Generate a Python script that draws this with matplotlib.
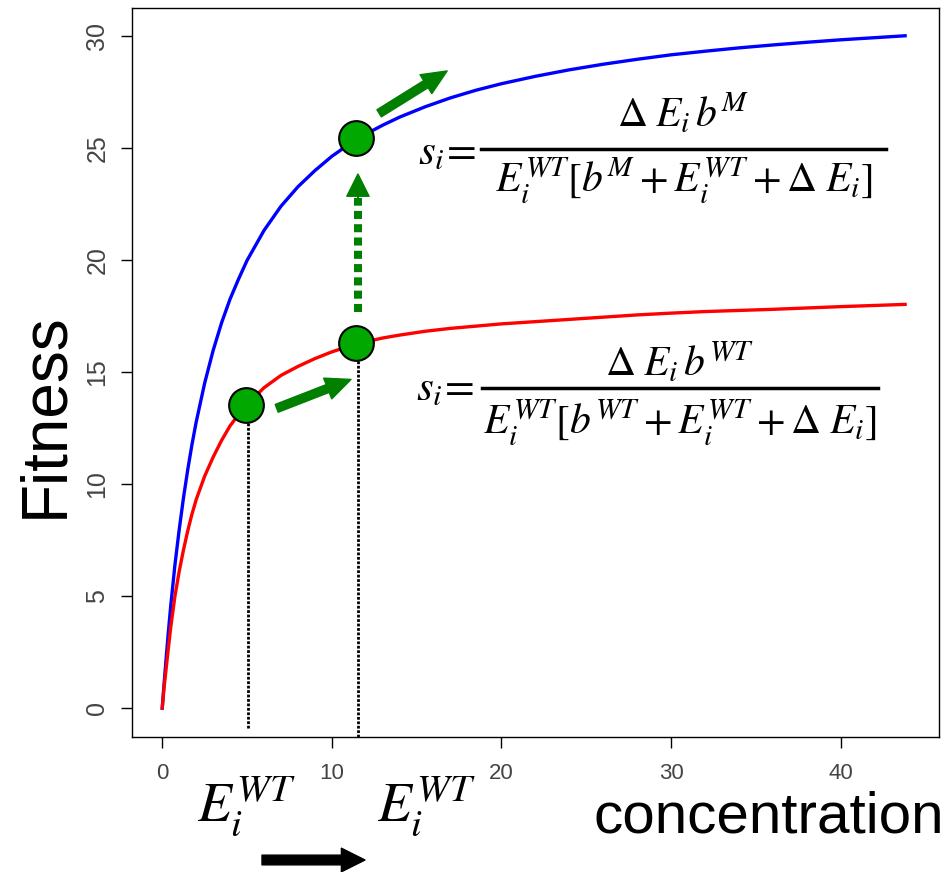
import matplotlib
matplotlib.use("Agg")
import matplotlib.pyplot as plt
from matplotlib.patches import FancyArrowPatch, ArrowStyle
from matplotlib.lines import Line2D

plt.rcParams['mathtext.fontset'] = 'stix'

# ---- data ----
concentration = [0, 0.1, 0.25, 0.35, 0.5, 0.75, 1, 1.25, 1.5, 1.75, 2, 2.5, 3, 3.5, 4, 4.5, 5, 6, 7, 8, 9,
                 10, 11, 12, 13, 14, 15.5, 17, 18.5, 20, 22, 24, 26, 28, 30, 32, 34, 36, 38, 40, 43.8]
fitness_mutant = [0, 1.0, 2.4, 3.3, 4.55, 6.4, 7.96, 9.37, 10.62, 11.75, 12.76, 14.5, 15.96, 17.2, 18.26,
                  19.15, 19.98, 21.32, 22.40, 23.27, 23.99, 24.63, 25.16, 25.62, 26.02, 26.38, 26.84,
                  27.24, 27.58, 27.87, 28.2, 28.49, 28.74, 28.96, 29.16, 29.32, 29.47, 29.60, 29.72,
                  29.83, 30.01]
fitness_wt = [0, 0.85, 1.9, 2.6, 3.6, 5.0, 6.1, 7.05, 7.9, 8.65, 9.3, 10.35, 11.2, 11.95, 12.6, 13.1,
              13.55, 14.3, 14.85, 15.25, 15.6, 15.9, 16.15, 16.35, 16.52, 16.65, 16.82, 16.95, 17.05,
              17.15, 17.25, 17.35, 17.45, 17.55, 17.63, 17.7, 17.75, 17.8, 17.86, 17.92, 18.02]

point_x = [4.92, 11.4, 11.4]
point_y = [13.53, 16.28, 25.43]

guide_x = [5.08, 11.56]
guide_top = [13.53, 16.28]
guide_bottom = [-0.88, -1.29]

x_ticks = [0, 10, 20, 30, 40]
y_ticks = [0, 5, 10, 15, 20, 25, 30]

W, H = 949, 872
fig = plt.figure(figsize=(W / 100, H / 100), dpi=100)
ax = fig.add_axes([131.7 / W, 1 - 737 / H, (939 - 131.7) / W, (737 - 8) / H])

def px(x, y):
    return (x / W, 1 - y / H)

ax.plot(concentration, fitness_mutant, color='#0000FF', lw=2.4, zorder=2)
ax.plot(concentration, fitness_wt, color='#FF0000', lw=2.4, zorder=2)

for gx, gt, gb in zip(guide_x, guide_top, guide_bottom):
    ax.plot([gx, gx], [gb, gt], color='black', lw=2.0, ls=(0, (1, 0.6)), zorder=3)

# arrows
green = '#007F00'
def arrow(p0, p1, color, hl=18, hw=16, tw=6):
    a = FancyArrowPatch(p0, p1, arrowstyle=ArrowStyle.Simple(head_length=hl, head_width=hw, tail_width=tw),
                        mutation_scale=1, color=color, shrinkA=0, shrinkB=0, zorder=4)
    ax.add_patch(a)

arrow((6.75, 13.38), (11.13, 14.67), green)
arrow((12.79, 26.55), (16.80, 28.44), green)
# dotted vertical arrow
ax.plot([11.54, 11.54], [17.7, 22.75], color=green, lw=5.8, ls=(0, (1.0, 0.65)),
        solid_capstyle='butt', dash_capstyle='butt', zorder=4)
arrow((11.54, 22.6), (11.54, 23.84), green, hl=16, hw=16, tw=0.1)

ax.plot(point_x, point_y, 'o', ms=25, mfc='#00A800', mec='black', mew=1.5, zorder=5)

ax.set_xlim(-1.80, 45.8)
ax.set_ylim(-1.29, 31.25)
ax.set_xticks(x_ticks)
ax.set_yticks(y_ticks)
ax.set_xticklabels([str(t) for t in x_ticks], fontsize=16, color='#444444', family=['Liberation Sans', 'DejaVu Sans'])
ax.set_yticklabels([str(t) for t in y_ticks], fontsize=18, color='#444444', rotation=90, va='center',
                   family=['Liberation Sans', 'DejaVu Sans'])
ax.tick_params(axis='x', length=8, width=1, pad=11, direction='out')
ax.tick_params(axis='y', length=8, width=1, pad=8, direction='out')
for s in ax.spines.values():
    s.set_linewidth(1.0)

# axis titles
sans = ['Liberation Sans', 'DejaVu Sans']
fig.text(*px(45, 415), 'Fitness', rotation=90, fontsize=46, ha='center', va='center', family=sans)
fig.text(*px(944, 832), 'concentration', fontsize=42, ha='right', va='baseline', family=sans)

# E labels
fig.text(*px(197, 822), r'$E_i^{WT}$', fontsize=40, ha='left', va='baseline')
fig.text(*px(377, 822), r'$E_i^{WT}$', fontsize=40, ha='left', va='baseline')

# bottom black arrow
fa = FancyArrowPatch(px(262, 860), px(365, 860), transform=fig.transFigure,
                     arrowstyle=ArrowStyle.Simple(head_length=17, head_width=17, tail_width=7),
                     mutation_scale=1, color='black', shrinkA=0, shrinkB=0)
fig.patches.append(fa)

# formulas
def formula(s_left, s_base, bar_x0, bar_x1, bar_y, num, num_base, den, den_base):
    fig.text(*px(s_left, s_base), r'$s_i\!=$', fontsize=31, ha='left', va='baseline')
    fig.add_artist(Line2D([bar_x0 / W, bar_x1 / W], [1 - bar_y / H, 1 - bar_y / H], color='black', lw=2.5,
                          transform=fig.transFigure))
    cx = (bar_x0 + bar_x1) / 2
    fig.text(*px(cx, num_base), num, fontsize=30, ha='center', va='baseline')
    fig.text(*px(cx, den_base), den, fontsize=30, ha='center', va='baseline')

formula(418, 164, 481, 886, 149, r'$\Delta\;E_i\, b^M$', 127,
        r'$E_i^{WT}[b^M+E_i^{WT}+\Delta\;E_i]$', 193)
formula(416, 400, 482, 878, 388, r'$\Delta\;E_i\, b^{WT}$', 376,
        r'$E_i^{WT}[b^{WT}+E_i^{WT}+\Delta\;E_i]$', 435)

fig.savefig('out.png', dpi=100)
